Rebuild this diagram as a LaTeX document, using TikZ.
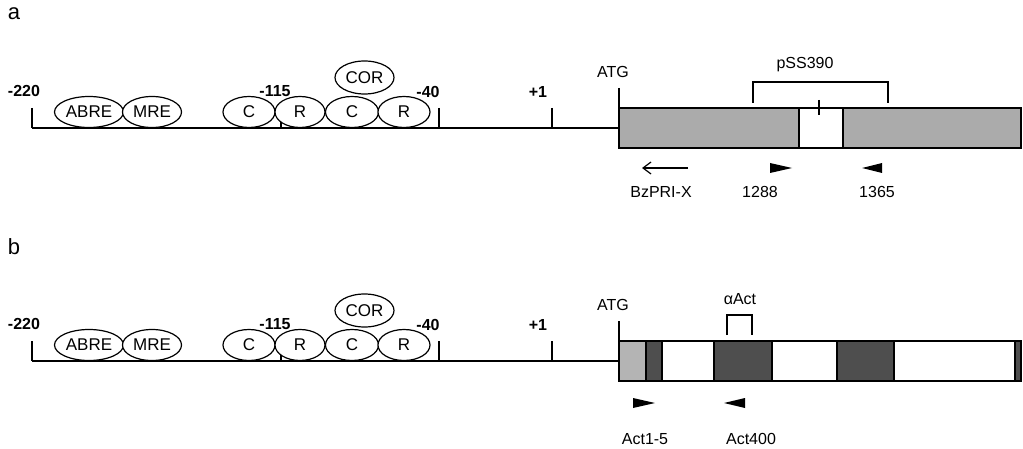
\documentclass[tikz,border=0pt]{standalone}
\usepackage{fontspec}
\setmainfont{Liberation Sans}
\usetikzlibrary{arrows.meta,shapes.geometric,positioning}
\definecolor{gsStipple}{HTML}{ABABAB}
\definecolor{gsLight}{HTML}{B4B4B4}
\definecolor{gsDark}{HTML}{4E4E4E}
\tikzset{
  gs diagram/.style={x=0.5pt,y=-0.5pt},
  gs site/.style={draw, fill=white, ellipse, line width=0.6pt, inner sep=0pt,
    minimum height=15.5pt, font=\fontsize{8.5}{9}\selectfont},
  gs pos/.style={font=\fontsize{8}{9}\selectfont\bfseries, inner sep=0pt},
  gs label/.style={font=\fontsize{8}{9}\selectfont, inner sep=0pt},
  gs panel/.style={font=\fontsize{11}{12}\selectfont, inner sep=0pt},
  gs dna/.style={line width=0.75pt},
  gs tick/.style={line width=0.6pt},
  gs exon/.style={draw, line width=0.6pt},
  gs box/.style={draw, line width=1pt},
  gs primer/.style={fill=black},
  gs probe/.style={line width=0.6pt},
  gs arrow/.style={-{Straight Barb[length=4pt,width=6pt]}, line width=0.6pt}
}

\begin{document}
\begin{tikzpicture}[gs diagram]
\useasboundingbox (0,0) rectangle (1023,449);
% promoter, same in both panels
\foreach \p/\dy in {a/0,b/233}{
\begin{scope}[shift={(0,\dy)}]
  \node[gs panel] (panel\p) at (14,14) {\p};
  \coordinate (start\p) at (32,128);
  \coordinate (atg\p) at (619,128);
  \draw[gs dna] (start\p) -- (atg\p);
  \foreach \x/\n in {32/m220,281/m115,439/m40,552/p1}
    \draw[gs tick] (\x,108) -- (\x,128) coordinate (t\n\p);
  \draw[gs tick] (619,88) -- (619,108);
  \node[gs pos] (l220\p) at (24,91) {-220};
  \node[gs pos] (l115\p) at (275,91) {-115};
  \node[gs pos] (l40\p) at (428,92) {-40};
  \node[gs pos] (l1\p) at (538,92) {+1};
  \node[gs label] (latg\p) at (613,72) {ATG};
  \node[gs site, minimum width=34.5pt] (abre\p) at (89,112) {ABRE};
  \node[gs site, minimum width=29.5pt] (mre\p) at (152,112) {MRE};
  \node[gs site, minimum width=26pt] (ca\p) at (249,112) {C};
  \node[gs site, minimum width=25pt] (ra\p) at (300,112) {R};
  \node[gs site, minimum width=26.5pt] (cb\p) at (352,112) {C};
  \node[gs site, minimum width=26pt] (rb\p) at (404,112) {R};
  \node[gs site, minimum width=29.5pt, minimum height=16.5pt] (cor\p) at (364.5,77.5) {COR};
\end{scope}
}
% a: gene with pSS390
\foreach \xa/\xb/\c in {619/799/gsStipple,799/843/white,843/1021/gsStipple}
  \filldraw[gs exon, fill=\c] (\xa,108) rectangle (\xb,148);
\draw[gs box] (619,108) rectangle (1021,148);
\draw[gs tick] (819,100) -- (819,115);
\coordinate (pssL) at (753,103);
\coordinate (pssR) at (888,103);
\draw[gs probe] (pssL) |- (820,82) -| (pssR);
\node[gs label] (pss) at (805,65) {pSS390};
\coordinate (bzA) at (688,168);
\coordinate (bzB) at (642,168);
\draw[gs arrow] (bzA) -- (bzB);
\node[gs label] (bz) at (661,192) {BzPRI-X};
\fill[gs primer] (770,163) -- (792,168) -- (770,173) -- cycle;
\node[gs label] (p1288) at (760,192) {1288};
\fill[gs primer] (882,163) -- (862,168) -- (882,173) -- cycle;
\node[gs label] (p1365) at (877,192) {1365};
% b: actin gene
\begin{scope}[shift={(0,233)}]
\foreach \xa/\xb/\c in {619/646/gsLight,646/662/gsDark,662/714/white,714/772/gsDark,
    772/837/white,837/894/gsDark,894/1015/white,1015/1021/gsDark}
  \filldraw[gs exon, fill=\c] (\xa,108) rectangle (\xb,148);
\draw[gs box] (619,108) rectangle (1021,148);
\coordinate (actL) at (727,102);
\coordinate (actR) at (752,102);
\draw[gs probe] (actL) |- (740,82) -| (actR);
\node[gs label] (aact) at (740,66) {αAct};
\fill[gs primer] (633,165) -- (655,170) -- (633,175) -- cycle;
\node[gs label] (act15) at (645,206) {Act1-5};
\fill[gs primer] (745,165) -- (724,170) -- (745,175) -- cycle;
\node[gs label] (act400) at (751,206) {Act400};
\end{scope}
\end{tikzpicture}
\end{document}
